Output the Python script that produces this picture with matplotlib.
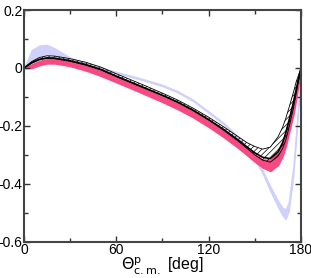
import numpy as np
import matplotlib.pyplot as plt
from matplotlib.ticker import MultipleLocator

plt.rcParams['font.family'] = ['Liberation Sans', 'DejaVu Sans']
plt.rcParams['hatch.linewidth'] = 0.5

# angle grid (deg)
ang = [0, 5, 10, 15, 20, 30, 40, 50, 60, 70, 80, 90, 100, 110, 120, 130, 140,
       145, 150, 155, 160, 165, 168, 170, 172, 175, 177, 180]

# solid black curve
black = [0, .018, .030, .035, .034, .025, .012, -.005, -.028, -.050, -.072, -.094,
         -.118, -.146, -.178, -.213, -.252, -.273, -.293, -.308, -.313, -.290,
         -.258, -.225, -.185, -.120, -.070, 0]

# hatched band
hatch_hi = [0, .022, .036, .042, .041, .032, .020, .003, -.020, -.042, -.064, -.087,
            -.111, -.139, -.170, -.204, -.240, -.258, -.271, -.280, -.273, -.238,
            -.205, -.175, -.140, -.085, -.045, 0]
hatch_lo = [0, .016, .028, .033, .032, .023, .010, -.007, -.030, -.052, -.074, -.096,
            -.120, -.148, -.180, -.216, -.256, -.278, -.300, -.318, -.325, -.305,
            -.278, -.250, -.210, -.140, -.085, 0]

# pink band
pink_hi = [0, .012, .024, .030, .030, .021, .008, -.010, -.032, -.054, -.077, -.100,
           -.124, -.152, -.184, -.220, -.258, -.280, -.300, -.316, -.318, -.292,
           -.258, -.222, -.182, -.115, -.065, 0]
pink_lo = [0, .000, .010, .016, .016, .007, -.008, -.027, -.049, -.071, -.094, -.117,
           -.142, -.170, -.203, -.239, -.279, -.301, -.323, -.343, -.355, -.335,
           -.303, -.270, -.226, -.160, -.100, 0]

# lavender band
lav_hi = [0, .062, .078, .080, .068, .036, .018, .002, -.013, -.027, -.042, -.058,
          -.080, -.110, -.150, -.190, -.242, -.273, -.308, -.352, -.408, -.458,
          -.482, -.488, -.462, -.335, -.205, 0]
lav_lo = [0, .024, .040, .046, .043, .028, .012, -.004, -.018, -.032, -.047, -.063,
          -.085, -.115, -.155, -.196, -.250, -.282, -.318, -.364, -.425, -.480,
          -.510, -.522, -.495, -.372, -.235, 0]

fig = plt.figure(figsize=(3.11, 2.78), dpi=100)
ax = fig.add_axes([0.077, 0.13, 0.891, 0.834])

ax.fill_between(ang, lav_lo, lav_hi, color='#d0d0fb', lw=0.8, edgecolor='#d0d0fb')
ax.fill_between(ang, pink_lo, pink_hi, color='#f84a82', lw=1.2, edgecolor='#f84a82')
ax.fill_between(ang, hatch_lo, hatch_hi, facecolor='none', edgecolor='black',
                hatch='//////', lw=0.6)
ax.plot(ang, black, color='black', lw=1.2)

ax.set_xlim(0, 180)
ax.set_ylim(-0.6, 0.2)
ax.xaxis.set_major_locator(MultipleLocator(60))
ax.xaxis.set_minor_locator(MultipleLocator(30))
ax.yaxis.set_minor_locator(MultipleLocator(0.1))
ax.set_yticks([-0.6, -0.4, -0.2, 0, 0.2])
ax.set_yticklabels(['-0.6', '-0.4', '-0.2', '0', '0.2'])
ax.tick_params(which='both', direction='in', top=True, right=True,
               labelsize=10, width=1, color='#333333', pad=1)
ax.tick_params(which='major', length=4)
ax.tick_params(which='minor', length=3)
for s in ax.spines.values():
    s.set_linewidth(1.5)
    s.set_color('#444444')

ax.set_xlabel(r'$\Theta^{\rm p}_{\rm c.m.}$ [deg]', fontsize=11.5, labelpad=-1)

fig.savefig('out.png', dpi=100)
